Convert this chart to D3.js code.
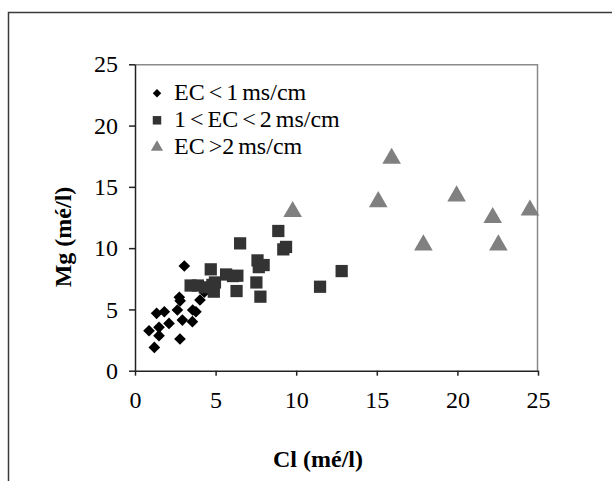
<!DOCTYPE html>
<html>
<head>
<meta charset="utf-8">
<script src="https://cdn.jsdelivr.net/npm/d3@7"></script>
<style>
  body { margin: 0; background: #fff; }
  text { font-family: "Liberation Serif", "Times New Roman", serif; fill: #000; }
</style>
</head>
<body>
<div id="chart"></div>
<script>
// series: EC < 1 ms/cm (diamonds)
var lowCl = [0.87, 1.2, 1.34, 1.49, 1.49, 1.82, 2.11, 2.63, 2.75, 2.8, 2.79, 2.94, 3.06, 3.56, 3.58, 3.78, 4.03, 4.3];
var lowMg = [3.26, 1.9, 4.68, 2.86, 3.54, 4.81, 3.86, 4.95, 5.99, 5.7, 2.59, 4.13, 8.54, 4.0, 4.95, 4.81, 5.77, 6.4];

// series: 1 < EC < 2 ms/cm (squares)
var midCl = [3.45, 3.9, 4.34, 4.7, 4.8, 4.89, 4.96, 5.65, 6.08, 6.35, 6.3, 6.52, 7.6, 7.68, 7.98, 7.53, 7.78, 8.89, 9.2, 9.37, 11.48, 12.82];
var midMg = [6.95, 6.95, 6.8, 8.27, 7.0, 6.45, 7.2, 7.85, 7.72, 7.75, 6.5, 10.39, 9.0, 8.45, 8.62, 7.2, 6.04, 11.4, 9.9, 10.1, 6.85, 8.13];

// series: EC > 2 ms/cm (triangles)
var highCl = [9.78, 15.09, 15.92, 17.89, 19.95, 22.19, 22.54, 24.5];
var highMg = [12.97, 13.78, 17.32, 10.25, 14.25, 12.48, 10.25, 13.1];

var seriesNames = ["EC < 1 ms/cm", "1 < EC < 2 ms/cm", "EC >2 ms/cm"];
var xTicks = [0, 5, 10, 15, 20, 25];
var yTicks = [0, 5, 10, 15, 20, 25];

var width = 612, height = 481;
var margin = { top: 64.3, right: 74, bottom: 110.3, left: 135 };
var chartWidth = width - margin.left - margin.right;
var chartHeight = height - margin.top - margin.bottom;

var svg = d3.select("#chart").append("svg")
  .attr("width", width)
  .attr("height", height);

// outer frame (left + top edges only visible)
svg.append("path")
  .attr("d", "M8.5,481 V12.5 H612")
  .attr("fill", "none")
  .attr("stroke", "#3a3a3a")
  .attr("stroke-width", 1.5);

var g = svg.append("g")
  .attr("transform", `translate(${margin.left}, ${margin.top})`);

var xScale = d3.scaleLinear().domain([0, 25]).range([0, chartWidth]);
var yScale = d3.scaleLinear().domain([0, 25]).range([chartHeight, 0]);

// plot box: top and right in grey
g.append("path")
  .attr("d", `M0,0.5 H${chartWidth - 0.5} V${chartHeight}`)
  .attr("fill", "none")
  .attr("stroke", "#8a8a8a")
  .attr("stroke-width", 1.5);

var xAxis = d3.axisBottom(xScale).tickValues(xTicks).tickSizeInner(5).tickSizeOuter(0).tickPadding(15);
var yAxis = d3.axisLeft(yScale).tickValues(yTicks).tickSizeInner(6).tickSizeOuter(0).tickPadding(11);

var gx = g.append("g")
  .attr("transform", `translate(0, ${chartHeight})`)
  .call(xAxis);
var gy = g.append("g").call(yAxis);

[gx, gy].forEach(function(ax) {
  ax.selectAll("path, line").attr("stroke", "#222").attr("stroke-width", 1.5);
  ax.selectAll("text").attr("font-size", "24px").attr("font-family", "Liberation Serif, serif").attr("fill", "#000");
});

// markers
var diamond = d3.symbol().type(d3.symbolSquare).size(68);
var square = d3.symbol().type(d3.symbolSquare).size(150);
var triangle = d3.symbol().type(d3.symbolTriangle).size(150);

g.selectAll(".low")
  .data(d3.range(lowCl.length))
  .enter().append("path")
  .attr("class", "low")
  .attr("d", diamond)
  .attr("transform", i => `translate(${xScale(lowCl[i])}, ${yScale(lowMg[i])}) rotate(45)`)
  .attr("fill", "#000");

g.selectAll(".mid")
  .data(d3.range(midCl.length))
  .enter().append("path")
  .attr("class", "mid")
  .attr("d", square)
  .attr("transform", i => `translate(${xScale(midCl[i])}, ${yScale(midMg[i])})`)
  .attr("fill", "#333333");

g.selectAll(".high")
  .data(d3.range(highCl.length))
  .enter().append("path")
  .attr("class", "high")
  .attr("d", triangle)
  .attr("transform", i => `translate(${xScale(highCl[i])}, ${yScale(highMg[i])})`)
  .attr("fill", "#808080");

// legend
var legendSymbols = [
  { sym: d3.symbol().type(d3.symbolSquare).size(36), rot: 45, fill: "#000" },
  { sym: d3.symbol().type(d3.symbolSquare).size(72), rot: 0, fill: "#333333" },
  { sym: d3.symbol().type(d3.symbolTriangle).size(64), rot: 0, fill: "#808080" }
];
var legend = g.append("g").attr("transform", "translate(22, 29)");
seriesNames.forEach(function(name, i) {
  var row = legend.append("g").attr("transform", `translate(0, ${i * 27})`);
  row.append("path")
    .attr("d", legendSymbols[i].sym)
    .attr("transform", `translate(0, 0) rotate(${legendSymbols[i].rot})`)
    .attr("fill", legendSymbols[i].fill);
  row.append("text")
    .attr("x", 17)
    .attr("y", 7)
    .attr("font-size", "24px")
    .attr("word-spacing", "-2px")
    .text(name);
});

// axis titles
svg.append("text")
  .attr("x", 318)
  .attr("y", 467)
  .attr("text-anchor", "middle")
  .attr("font-size", "24px")
  .attr("font-weight", "bold")
  .text("Cl (mé/l)");

svg.append("text")
  .attr("transform", "translate(71, 237) rotate(-90)")
  .attr("text-anchor", "middle")
  .attr("font-size", "24px")
  .attr("font-weight", "bold")
  .text("Mg (mé/l)");
</script>
</body>
</html>
